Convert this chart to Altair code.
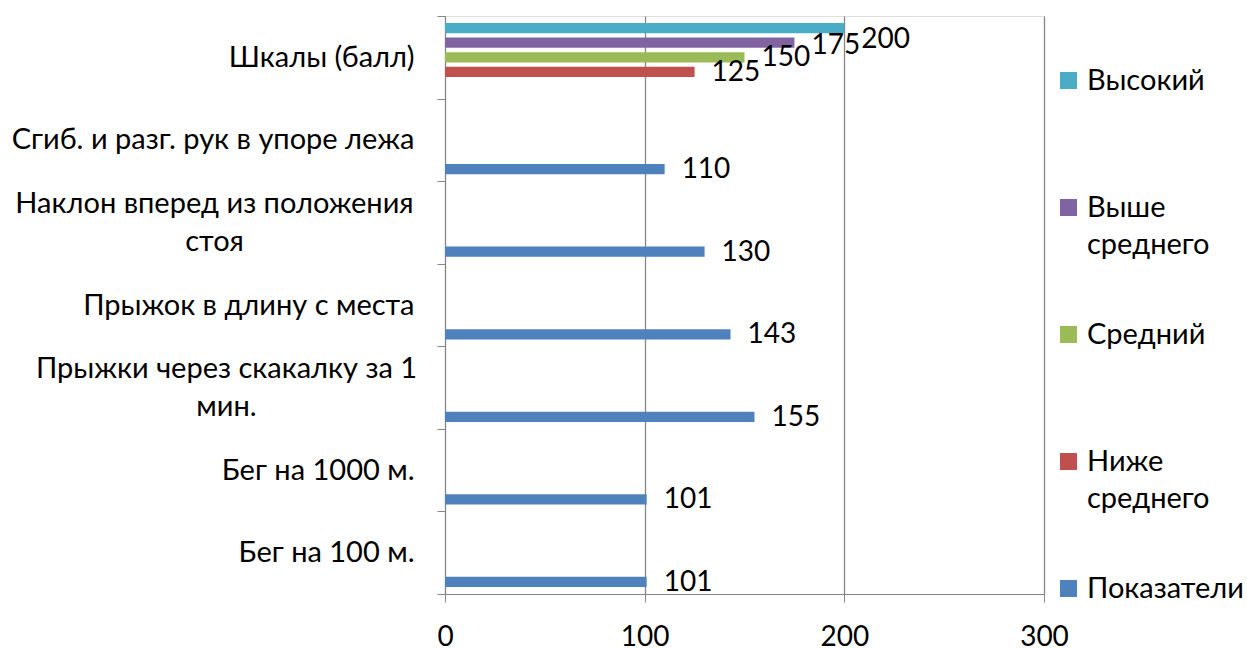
import altair as alt
import pandas as pd

# Categories, top to bottom
categories = [
    "Шкалы (балл)",
    "Сгиб. и разг. рук в упоре лежа",
    "Наклон вперед из положения стоя",
    "Прыжок в длину с места",
    "Прыжки через скакалку за 1 мин.",
    "Бег на 1000 м.",
    "Бег на 100 м.",
]
indicator_series = "Показатели"
indicator_values = [None, 110, 130, 143, 155, 101, 101]

scale_category = "Шкалы (балл)"
scale_levels = ["Ниже среднего", "Средний", "Выше среднего", "Высокий"]
scale_points = [125, 150, 175, 200]

series_order = ["Высокий", "Выше среднего", "Средний", "Ниже среднего", "Показатели"]
series_colors = ["#4BACC6", "#8064A2", "#9BBB59", "#C0504D", "#4F81BD"]
x_ticks = [0, 100, 200, 300]

# Line breaks for the long labels
category_lines = {
    "Наклон вперед из положения стоя": ["Наклон вперед из положения", "стоя"],
    "Прыжки через скакалку за 1 мин.": ["Прыжки через скакалку за 1", "мин."],
}
legend_lines = {
    "Выше среднего": ["Выше", "среднего"],
    "Ниже среднего": ["Ниже", "среднего"],
}

rows = []
for cat, val in zip(categories, indicator_values):
    if val is not None:
        rows.append({"category": cat, "series": indicator_series, "value": val})
for lvl, pts in zip(scale_levels, scale_points):
    rows.append({"category": scale_category, "series": lvl, "value": pts})
df = pd.DataFrame(rows)

FONT = "Lato"
FS_TEXT = 29
FS_NUM = 28
GRAY = "#868686"


def wrap_expr(mapping):
    expr = "datum.label"
    for full, parts in mapping.items():
        arr = "[" + ", ".join("'" + p + "'" for p in parts) + "]"
        expr = f"datum.label == '{full}' ? {arr} : ({expr})"
    return expr


wrapped_test = " || ".join(f"datum.value == '{k}'" for k in category_lines)
lean_key, jump_key = list(category_lines)

y_enc = alt.Y(
    "category:N",
    sort=categories,
    scale=alt.Scale(paddingInner=0, paddingOuter=0),
    axis=alt.Axis(
        title=None,
        labelExpr=wrap_expr(category_lines),
        labelAlign={"condition": {"test": wrapped_test, "value": "center"}, "value": "right"},
        labelPadding={
            "condition": [
                {"test": f"datum.value == '{lean_key}'", "value": 223},
                {"test": f"datum.value == '{jump_key}'", "value": 211},
            ],
            "value": 23,
        },
        labelOffset={"condition": {"test": wrapped_test, "value": -19}, "value": 0},
        labelFont=FONT,
        labelFontSize=FS_TEXT,
        labelColor="black",
        labelLineHeight=38,
        labelLimit=0,
        tickBand="extent",
        tickSize=8,
        tickColor=GRAY,
        domainColor=GRAY,
        grid=False,
    ),
)
yoff_enc = alt.YOffset(
    "series:N",
    sort=series_order,
    scale=alt.Scale(domain=series_order, paddingInner=0.3, paddingOuter=0.47),
)
x_enc = alt.X(
    "value:Q",
    scale=alt.Scale(domain=[0, 300], nice=False),
    axis=alt.Axis(
        title=None,
        values=x_ticks,
        grid=True,
        gridColor=GRAY,
        gridWidth=1.3,
        domainColor=GRAY,
        tickColor=GRAY,
        tickSize=8,
        labelPadding=21,
        labelFont=FONT,
        labelFontSize=FS_NUM,
        labelColor="black",
        labelFlush=False,
    ),
)
color_enc = alt.Color(
    "series:N",
    scale=alt.Scale(domain=series_order, range=series_colors),
    legend=alt.Legend(
        title=None,
        orient="none",
        legendX=609,
        legendY=50,
        symbolType="square",
        symbolSize=289,
        symbolStrokeWidth=0,
        symbolOpacity=1,
        labelFont=FONT,
        labelFontSize=FS_TEXT,
        labelColor="black",
        labelLimit=0,
        labelOffset=4,
        labelExpr=wrap_expr(legend_lines),
        gridAlign="all",
        rowPadding=60,
        padding=0,
    ),
)

base = alt.Chart(df).encode(y=y_enc, yOffset=yoff_enc, x=x_enc)

bars = base.mark_bar().encode(color=color_enc)

label_style = dict(align="left", baseline="middle", dx=17, font=FONT, fontSize=FS_NUM, color="black")
labels_main = base.transform_filter(
    "datum.series != 'Высокий' && datum.series != 'Выше среднего'"
).mark_text(dy=1, **label_style).encode(text="value:Q")
labels_upper = base.transform_filter(
    "datum.series == 'Выше среднего'"
).mark_text(dy=3, **label_style).encode(text="value:Q")
labels_top = base.transform_filter(
    "datum.series == 'Высокий'"
).mark_text(dy=12, **label_style).encode(text="value:Q")

chart = (
    alt.layer(bars, labels_main, labels_upper, labels_top)
    .properties(
        width=599,
        height=578,
        autosize=alt.AutoSizeParams(type="none"),
        padding={"left": 445, "top": 16, "right": 203, "bottom": 54},
    )
    .configure_view(stroke=None)
    .configure(background="white", style={"guide-label": {"lineHeight": 37}})
)

chart.save("out.html", embed_options={"renderer": "svg", "actions": False})
